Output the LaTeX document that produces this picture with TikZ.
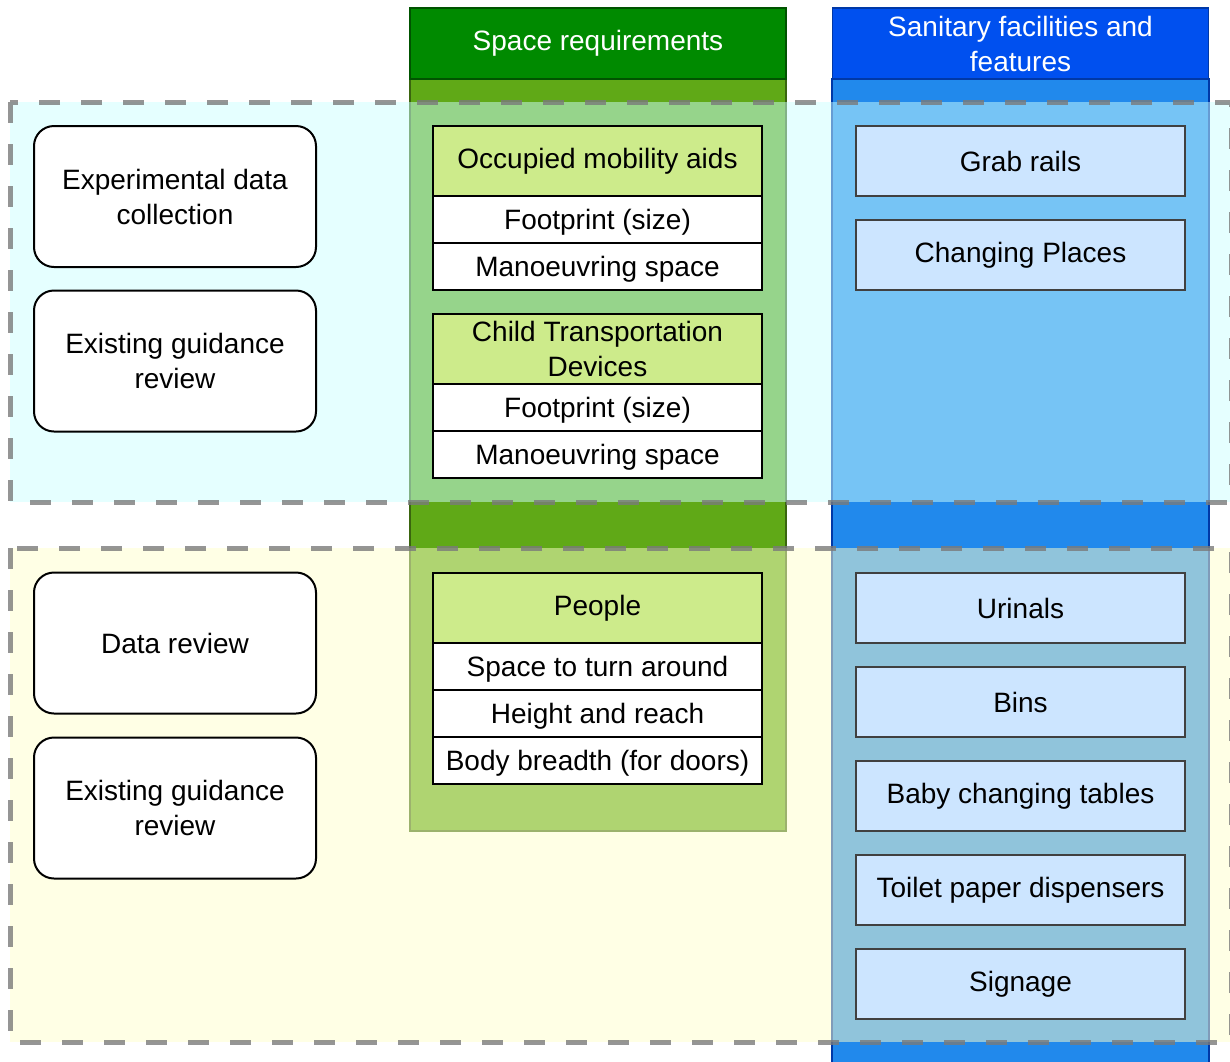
\documentclass[tikz,border=0pt]{standalone}
\usepackage{fontspec}
\setmainfont{Liberation Sans}
\usepackage{xcolor}
\usetikzlibrary{positioning}

\definecolor{headgreen}{HTML}{008A00}
\definecolor{bodygreen}{HTML}{60A917}
\definecolor{headblue}{HTML}{0050EF}
\definecolor{bodyblue}{HTML}{2189EC}
\definecolor{cyantint}{HTML}{CCFFFF}
\definecolor{yellowtint}{HTML}{FFFFCC}
\definecolor{itemgreen}{HTML}{CDEB8B}
\definecolor{itemblue}{HTML}{CCE5FF}
\definecolor{dashgray}{HTML}{7A7A7A}

\tikzset{
	lanehead/.style={draw, line width=1.5pt, text=white, align=center,
		minimum width=376pt, minimum height=71pt, inner sep=0pt, outer sep=0pt},
	region/.style={draw=dashgray, draw opacity=0.8, fill opacity=0.5,
		line width=5pt, dash pattern=on 21pt off 21pt},
	stagecard/.style={draw, line width=2pt, rounded corners=20pt, fill=white,
		align=center, minimum width=282pt, minimum height=141pt, inner sep=0pt},
	itemhead/.style={draw, line width=2pt, fill=itemgreen, align=center,
		minimum width=329pt, minimum height=70pt, inner sep=0pt, outer sep=0pt},
	itemrow/.style={draw, line width=2pt, fill=white, text height=26pt, text depth=5.5pt,
		minimum width=329pt, minimum height=47pt, inner sep=0pt, outer sep=0pt},
	featurebox/.style={draw=black!75, line width=2pt, fill=itemblue,
		minimum width=329pt, minimum height=70pt, inner sep=0pt}
}

\begin{document}
\begin{tikzpicture}[x=1pt,y=-1pt,
	every node/.style={font=\fontsize{28}{35}\selectfont}]
		
		\useasboundingbox
		(0,0)
		rectangle
		(1230,1061);
		
		\draw[fill=bodygreen,draw=bodygreen!60!black,line width=1.5pt]
		(410,79)
		rectangle
		(786,831);
		
		\draw[fill=bodyblue,draw=headblue!70!black,line width=1.5pt]
		(832,79)
		rectangle
		(1209,1075);
		
		\node[lanehead,fill=headgreen,draw=headgreen!60!black] (spacehead) at (598,43.5)
		{Space requirements};
		
		\node[lanehead,fill=headblue,draw=headblue!70!black] (sanitaryhead) at (1020.5,43.5)
		{Sanitary facilities and\\features};
		
		\draw[region,fill=cyantint]
		(10,102)
		rectangle
		(1231,502);
		
		\draw[region,fill=yellowtint]
		(10,548)
		rectangle
		(1231,1042);
		
		\node[stagecard] (expdata) at (175,196.5)
		{Experimental data\\collection};
		
		\node[stagecard] (guidetop) at (175,361)
		{Existing guidance\\review};
		
		\node[stagecard] (datareview) at (175,643)
		{Data review};
		
		\node[stagecard] (guidebottom) at (175,808)
		{Existing guidance\\review};
		
		\node[itemhead] (aidshead) at (597.5,161)
		{Occupied mobility aids};
		\node[itemrow,below=0pt of aidshead] (aidsfoot)
		{Footprint (size)};
		\node[itemrow,below=0pt of aidsfoot] (aidsturn)
		{Manoeuvring space};
		
		\node[itemhead] (childhead) at (597.5,349)
		{Child Transportation\\Devices};
		\node[itemrow,below=0pt of childhead] (childfoot)
		{Footprint (size)};
		\node[itemrow,below=0pt of childfoot] (childturn)
		{Manoeuvring space};
		
		\node[itemhead] (peoplehead) at (597.5,608)
		{People};
		\node[itemrow,below=0pt of peoplehead] (peopleturn)
		{Space to turn around};
		\node[itemrow,below=0pt of peopleturn] (peoplereach)
		{Height and reach};
		\node[itemrow,below=0pt of peoplereach] (peoplebreadth)
		{Body breadth (for doors)};
		
		\node[featurebox] (grabrails) at (1020.5,161)
		{Grab rails};
		
		\node[featurebox] (changing) at (1020.5,255)
		{Changing Places};
		
		\node[featurebox] (urinals) at (1020.5,608)
		{Urinals};
		
		\node[featurebox] (bins) at (1020.5,702)
		{Bins};
		
		\node[featurebox] (babytables) at (1020.5,796)
		{Baby changing tables};
		
		\node[featurebox] (toiletpaper) at (1020.5,890)
		{Toilet paper dispensers};
		
		\node[featurebox] (signage) at (1020.5,984)
		{Signage};
		
	\end{tikzpicture}
\end{document}
